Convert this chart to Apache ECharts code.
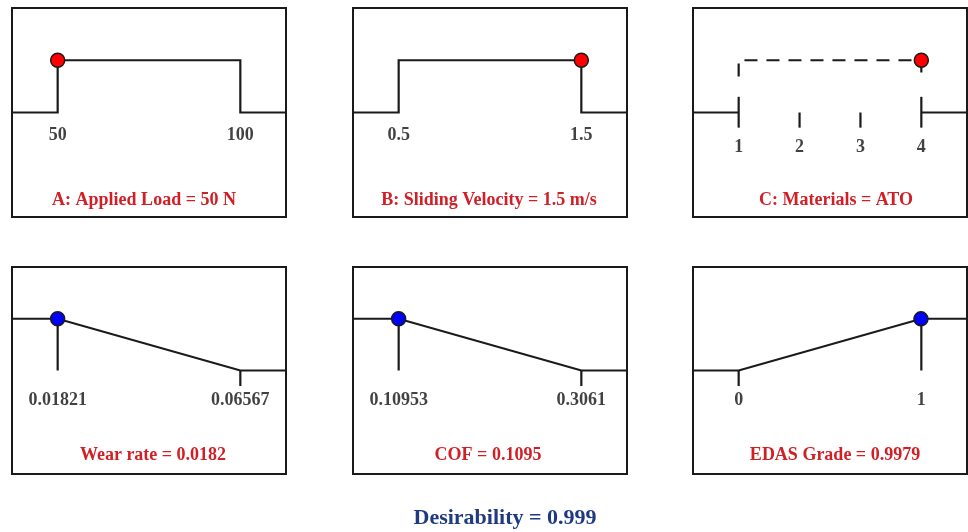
<!DOCTYPE html>
<html lang="en">
<head>
    <meta charset="UTF-8">
    <title>Desirability ramps</title>
    <script src="https://cdn.jsdelivr.net/npm/echarts@6/dist/echarts.min.js"></script>
    <style>
        html, body { margin: 0; padding: 0; background: #fff; }
        #main { width: 968px; height: 532px; }
    </style>
</head>
<body>
    <div id="main"></div>
</body>
    <script type="text/javascript">
        // top row: factors
        var factorNames = ['A: Applied Load', 'B: Sliding Velocity', 'C: Materials'];
        var factorLow = [50, 0.5, 1];
        var factorHigh = [100, 1.5, 4];
        var factorSetting = [50, 1.5, 4];
        var factorSettingText = ['50 N', '1.5 m/s', 'ATO'];
        var factorTicks = [['50', '100'], ['0.5', '1.5'], ['1', '2', '3', '4']];

        // bottom row: responses
        var responseNames = ['Wear rate', 'COF', 'EDAS Grade'];
        var responseLow = [0.01821, 0.10953, 0];
        var responseHigh = [0.06567, 0.3061, 1];
        var responseGoal = ['min', 'min', 'max'];
        var responseSetting = [0.0182, 0.1095, 0.9979];
        var responseSettingText = ['0.0182', '0.1095', '0.9979'];
        var responseTicks = [['0.01821', '0.06567'], ['0.10953', '0.3061'], ['0', '1']];

        var desirability = 0.999;

        // layout
        var colLeft = [12, 353, 693];
        var rowTop = [8, 267];
        var rowHeight = [209, 207];
        var boxW = 274;
        var nameX = [[144, 489, 836], [153, 488, 835]];
        var nameY = [200, 455];
        var FONT = '"Liberation Serif", "DejaVu Serif", serif';
        var INK = '#1a1a1a';

        var option = {
            animation: false,
            backgroundColor: '#fff',
            grid: [], xAxis: [], yAxis: [], series: [], graphic: []
        };

        function addPanel(i, row, col, lo, hi, solid, dashed, dot, dotColor, ticks, tickDy, name) {
            var span = hi - lo;
            option.grid.push({
                left: colLeft[col], top: rowTop[row], width: boxW, height: rowHeight[row],
                show: true, borderColor: INK, borderWidth: 2, backgroundColor: '#fff'
            });
            option.xAxis.push({ gridIndex: i, type: 'value', min: lo - span * 0.25, max: hi + span * 0.25, show: false });
            option.yAxis.push({ gridIndex: i, type: 'value', min: -2, max: 2, show: false });

            option.series.push({
                type: 'lines', coordinateSystem: 'cartesian2d', xAxisIndex: i, yAxisIndex: i,
                polyline: true, silent: true, z: 2,
                lineStyle: { color: INK, width: 2.2, opacity: 1 },
                data: solid.map(function (c) { return { coords: c }; })
            });
            if (dashed.length) {
                option.series.push({
                    type: 'lines', coordinateSystem: 'cartesian2d', xAxisIndex: i, yAxisIndex: i,
                    polyline: true, silent: true, z: 2,
                    lineStyle: { color: INK, width: 2.2, opacity: 1, type: [13, 9] },
                    data: dashed.map(function (c) { return { coords: c }; })
                });
            }
            option.series.push({
                type: 'scatter', xAxisIndex: i, yAxisIndex: i, z: 5, silent: true,
                symbolSize: 14,
                itemStyle: { color: dotColor, borderColor: INK, borderWidth: 1.5, opacity: 1 },
                data: [dot]
            });
            option.series.push({
                type: 'scatter', xAxisIndex: i, yAxisIndex: i, z: 4, silent: true,
                symbolSize: 0,
                label: {
                    show: true, position: 'inside', offset: [0, tickDy],
                    color: '#111', fontFamily: FONT, fontWeight: 'bold', fontSize: 18,
                    formatter: function (p) { return p.value[2]; }
                },
                data: ticks.map(function (t) { return [parseFloat(t), 0, t]; })
            });
            option.graphic.push({
                type: 'text', x: nameX[row][col], y: nameY[row], z: 10,
                style: {
                    text: name, fill: '#d11f26', fontFamily: FONT, fontWeight: 'bold', fontSize: 18,
                    align: 'center', verticalAlign: 'middle'
                }
            });
        }

        // factors
        for (var c = 0; c < 3; c++) {
            var lo = factorLow[c], hi = factorHigh[c], sp = hi - lo;
            var xmin = lo - sp * 0.25, xmax = hi + sp * 0.25;
            var solid, dashed = [], dy = 23;
            if (c < 2) {
                solid = [[[xmin, 0], [lo, 0], [lo, 1], [hi, 1], [hi, 0], [xmax, 0]]];
            } else {
                solid = [[[xmin, 0], [lo, 0]], [[hi, 0], [xmax, 0]],
                         [[lo, 0.3], [lo, -0.29]], [[hi, 0.3], [hi, -0.29]]];
                factorTicks[c].slice(1, -1).forEach(function (t) {
                    solid.push([[parseFloat(t), 0], [parseFloat(t), -0.29]]);
                });
                dashed = [[[lo, 0.69], [lo, 1], [hi, 1], [hi, 0.65]]];
                dy = 35;
            }
            addPanel(c, 0, c, lo, hi, solid, dashed, [factorSetting[c], 1], '#ff0000',
                factorTicks[c], dy, factorNames[c] + ' = ' + factorSettingText[c]);
        }

        // responses
        for (var r = 0; r < 3; r++) {
            var lo2 = responseLow[r], hi2 = responseHigh[r], sp2 = hi2 - lo2;
            var x0 = lo2 - sp2 * 0.25, x1 = hi2 + sp2 * 0.25;
            var v = responseSetting[r], d, lines;
            if (responseGoal[r] === 'min') {
                d = Math.min(1, Math.max(0, (hi2 - v) / sp2));
                lines = [[[x0, 1], [lo2, 1], [hi2, 0], [x1, 0]],
                         [[lo2, 1], [lo2, 0]], [[hi2, 0], [hi2, -0.3]]];
            } else {
                d = Math.min(1, Math.max(0, (v - lo2) / sp2));
                lines = [[[x0, 0], [lo2, 0], [hi2, 1], [x1, 1]],
                         [[hi2, 1], [hi2, 0]], [[lo2, 0], [lo2, -0.3]]];
            }
            addPanel(3 + r, 1, r, lo2, hi2, lines, [], [v, d], '#0000ff',
                responseTicks[r], 30, responseNames[r] + ' = ' + responseSettingText[r]);
        }

        option.graphic.push({
            type: 'text', x: 505, y: 518, z: 10,
            style: {
                text: 'Desirability = ' + desirability, fill: '#1f3a80', fontFamily: FONT,
                fontWeight: 'bold', fontSize: 22, align: 'center', verticalAlign: 'middle'
            }
        });

        var myChart = echarts.init(document.getElementById('main'));
        myChart.setOption(option);
    </script>
</html>
